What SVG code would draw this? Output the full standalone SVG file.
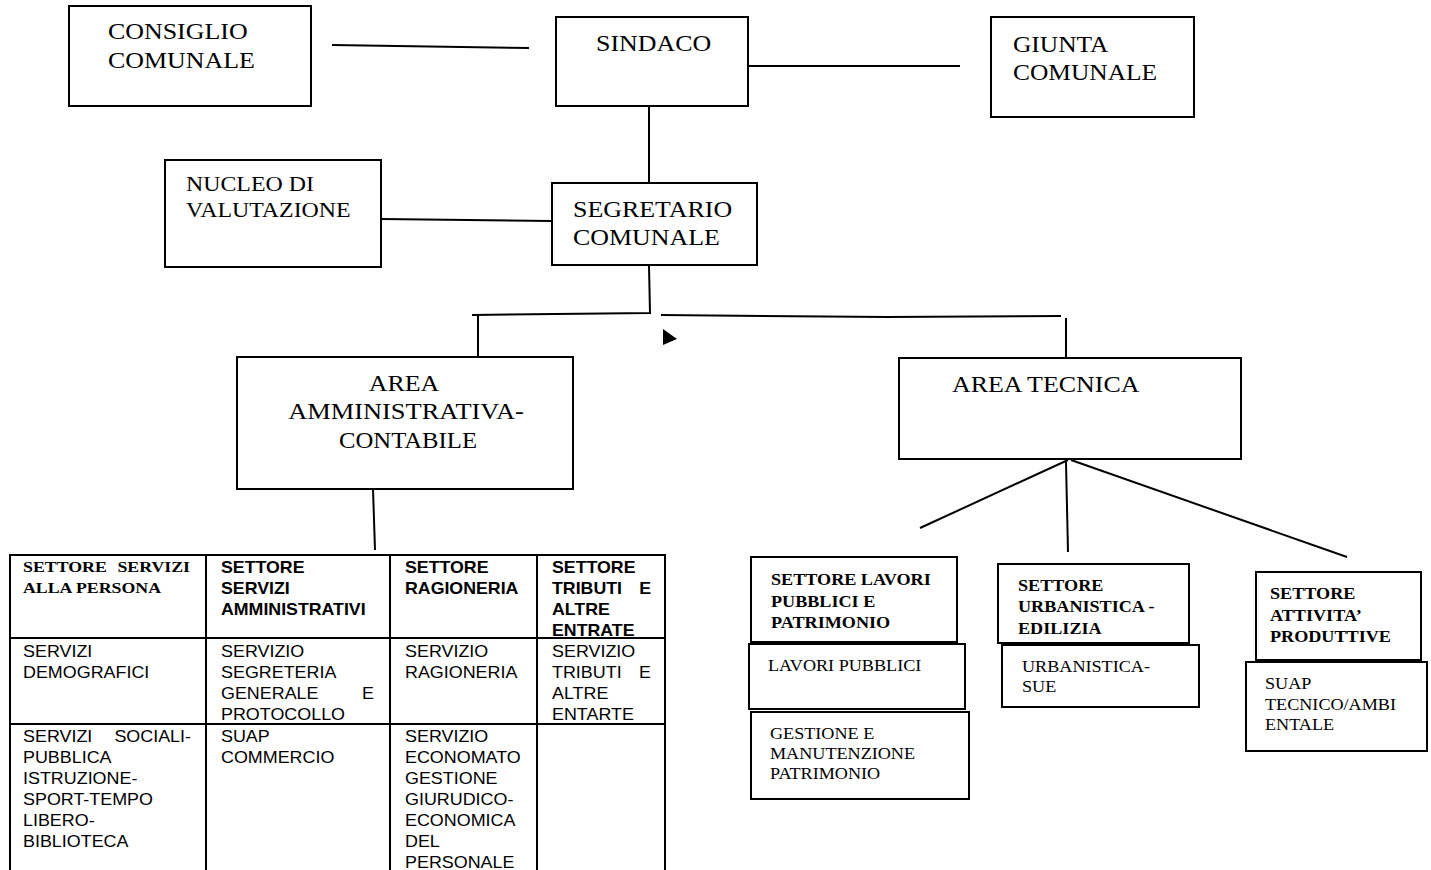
<svg xmlns="http://www.w3.org/2000/svg" width="1431" height="870" viewBox="0 0 1431 870">
<style>
.box{fill:#fff;stroke:#000;stroke-width:2}
.ln{stroke:#000;stroke-width:2;fill:none}
.t{font-family:"Liberation Serif",serif;font-size:24px;fill:#000}
.tm{font-family:"Liberation Serif",serif;font-size:21.5px;fill:#000}
.ts{font-family:"Liberation Serif",serif;font-size:16.5px;fill:#000}
.tb{font-family:"Liberation Serif",serif;font-size:16.5px;font-weight:bold;fill:#000}
.a{font-family:"Liberation Sans",Arial,sans-serif;font-size:16px;fill:#000}
.ab{font-family:"Liberation Sans",Arial,sans-serif;font-size:16px;font-weight:bold;fill:#000}
.tbs{font-family:"Liberation Serif",serif;font-size:15.5px;font-weight:bold;fill:#000}
.m{text-anchor:middle}
.e{text-anchor:end}
</style>
<rect width="1431" height="870" fill="#fff"/>
<g id="connectors">
<line class="ln" x1="332" y1="45" x2="529" y2="48"/>
<line class="ln" x1="748" y1="66" x2="960" y2="66"/>
<line class="ln" x1="649" y1="106" x2="649" y2="183"/>
<line class="ln" x1="381" y1="219" x2="552" y2="221"/>
<polyline class="ln" points="649,266 650,313 472,315"/>
<line class="ln" x1="478" y1="315" x2="478" y2="357"/>
<polyline class="ln" points="661,315 887,317 1061,316"/>
<line class="ln" x1="1066" y1="318" x2="1066" y2="359"/>
<polygon points="663,329 677,339 663,345" fill="#000"/>
<line class="ln" x1="373" y1="489" x2="375" y2="550"/>
<line class="ln" x1="1068" y1="460" x2="920" y2="528"/>
<line class="ln" x1="1066" y1="462" x2="1068" y2="552"/>
<line class="ln" x1="1071" y1="460" x2="1347" y2="557"/>
</g>
<g id="consiglio">
<rect class="box" x="69" y="6" width="242" height="100"/>
<text class="t" transform="translate(108 39) scale(1.08 1)">CONSIGLIO</text>
<text class="t" transform="translate(108 68) scale(1.08 1)">COMUNALE</text>
</g>
<g id="sindaco">
<rect class="box" x="556" y="17" width="192" height="89"/>
<text class="t" transform="translate(596 51) scale(1.08 1)">SINDACO</text>
</g>
<g id="giunta">
<rect class="box" x="991" y="17" width="203" height="100"/>
<text class="t" transform="translate(1013 52) scale(1.06 1)">GIUNTA</text>
<text class="t" transform="translate(1013 80) scale(1.06 1)">COMUNALE</text>
</g>
<g id="nucleo">
<rect class="box" x="165" y="160" width="216" height="107"/>
<text class="tm" transform="translate(186 191) scale(1.11 1)">NUCLEO DI</text>
<text class="tm" transform="translate(186 217) scale(1.11 1)">VALUTAZIONE</text>
</g>
<g id="segretario">
<rect class="box" x="552" y="183" width="205" height="82"/>
<text class="t" transform="translate(573 217) scale(1.08 1)">SEGRETARIO</text>
<text class="t" transform="translate(573 245) scale(1.08 1)">COMUNALE</text>
</g>
<g id="area-amm">
<rect class="box" x="237" y="357" width="336" height="132"/>
<text class="t m" transform="translate(404 391) scale(1.08 1)">AREA</text>
<text class="t m" transform="translate(406 419) scale(1.1 1)">AMMINISTRATIVA-</text>
<text class="t m" transform="translate(408 448) scale(1.03 1)">CONTABILE</text>
</g>
<g id="area-tec">
<rect class="box" x="899" y="358" width="342" height="101"/>
<text class="t" transform="translate(952 392) scale(1.08 1)">AREA TECNICA</text>
</g>
<g id="tabella">
<rect x="10" y="555" width="655" height="320" fill="#fff" stroke="#000" stroke-width="2"/>
<line class="ln" x1="206" y1="555" x2="206" y2="870"/>
<line class="ln" x1="390" y1="555" x2="390" y2="870"/>
<line class="ln" x1="537" y1="555" x2="537" y2="870"/>
<line class="ln" x1="10" y1="638" x2="665" y2="638"/>
<line class="ln" x1="10" y1="724" x2="665" y2="724"/>
<text class="tbs" transform="translate(23 572) scale(1.15 1)">SETTORE</text>
<text class="tbs e" transform="translate(190 572) scale(1.15 1)">SERVIZI</text>
<text class="tbs" transform="translate(23 593) scale(1.15 1)">ALLA PERSONA</text>
<text class="ab" transform="translate(221 573) scale(1.11 1)">SETTORE</text>
<text class="ab" transform="translate(221 594) scale(1.11 1)">SERVIZI</text>
<text class="ab" transform="translate(221 615) scale(1.11 1)">AMMINISTRATIVI</text>
<text class="ab" transform="translate(405 573) scale(1.11 1)">SETTORE</text>
<text class="ab" transform="translate(405 594) scale(1.11 1)">RAGIONERIA</text>
<text class="ab" transform="translate(552 573) scale(1.11 1)">SETTORE</text>
<text class="ab" transform="translate(552 594) scale(1.11 1)">TRIBUTI</text>
<text class="ab e" transform="translate(651 594) scale(1.11 1)">E</text>
<text class="ab" transform="translate(552 615) scale(1.11 1)">ALTRE</text>
<text class="ab" transform="translate(552 636) scale(1.11 1)">ENTRATE</text>
<g class="a">
<text transform="translate(23 657) scale(1.12 1)">SERVIZI</text>
<text transform="translate(23 678) scale(1.12 1)">DEMOGRAFICI</text>
<text transform="translate(221 657) scale(1.12 1)">SERVIZIO</text>
<text transform="translate(221 678) scale(1.12 1)">SEGRETERIA</text>
<text transform="translate(221 699) scale(1.12 1)">GENERALE</text>
<text class="e" transform="translate(374 699) scale(1.12 1)">E</text>
<text transform="translate(221 720) scale(1.12 1)">PROTOCOLLO</text>
<text transform="translate(405 657) scale(1.12 1)">SERVIZIO</text>
<text transform="translate(405 678) scale(1.12 1)">RAGIONERIA</text>
<text transform="translate(552 657) scale(1.12 1)">SERVIZIO</text>
<text transform="translate(552 678) scale(1.12 1)">TRIBUTI</text>
<text class="e" transform="translate(651 678) scale(1.12 1)">E</text>
<text transform="translate(552 699) scale(1.12 1)">ALTRE</text>
<text transform="translate(552 720) scale(1.12 1)">ENTARTE</text>
<text transform="translate(23 742) scale(1.12 1)">SERVIZI</text>
<text class="e" transform="translate(191 742) scale(1.12 1)">SOCIALI-</text>
<text transform="translate(23 763) scale(1.12 1)">PUBBLICA</text>
<text transform="translate(23 784) scale(1.12 1)">ISTRUZIONE-</text>
<text transform="translate(23 805) scale(1.12 1)">SPORT-TEMPO</text>
<text transform="translate(23 826) scale(1.12 1)">LIBERO-</text>
<text transform="translate(23 847) scale(1.12 1)">BIBLIOTECA</text>
<text transform="translate(221 742) scale(1.12 1)">SUAP</text>
<text transform="translate(221 763) scale(1.12 1)">COMMERCIO</text>
<text transform="translate(405 742) scale(1.12 1)">SERVIZIO</text>
<text transform="translate(405 763) scale(1.12 1)">ECONOMATO</text>
<text transform="translate(405 784) scale(1.12 1)">GESTIONE</text>
<text transform="translate(405 805) scale(1.12 1)">GIURUDICO-</text>
<text transform="translate(405 826) scale(1.12 1)">ECONOMICA</text>
<text transform="translate(405 847) scale(1.12 1)">DEL</text>
<text transform="translate(405 868) scale(1.12 1)">PERSONALE</text>
</g>
</g>
<g id="settore-lp">
<rect class="box" x="751" y="557" width="206" height="85"/>
<text class="tb" transform="translate(771 585) scale(1.1 1)">SETTORE LAVORI</text>
<text class="tb" transform="translate(771 607) scale(1.1 1)">PUBBLICI E</text>
<text class="tb" transform="translate(771 628) scale(1.1 1)">PATRIMONIO</text>
</g>
<g id="lavori-pubblici">
<rect class="box" x="749" y="644" width="216" height="65"/>
<text class="ts" transform="translate(768 671) scale(1.1 1)">LAVORI PUBBLICI</text>
</g>
<g id="gestione">
<rect class="box" x="751" y="712" width="218" height="87"/>
<text class="ts" transform="translate(770 739) scale(1.1 1)">GESTIONE E</text>
<text class="ts" transform="translate(770 759) scale(1.1 1)">MANUTENZIONE</text>
<text class="ts" transform="translate(770 779) scale(1.1 1)">PATRIMONIO</text>
</g>
<g id="settore-urb">
<rect class="box" x="998" y="564" width="191" height="79"/>
<text class="tb" transform="translate(1018 591) scale(1.1 1)">SETTORE</text>
<text class="tb" transform="translate(1018 612) scale(1.1 1)">URBANISTICA -</text>
<text class="tb" transform="translate(1018 634) scale(1.1 1)">EDILIZIA</text>
</g>
<g id="urbanistica">
<rect class="box" x="1002" y="645" width="197" height="62"/>
<text class="ts" transform="translate(1022 672) scale(1.1 1)">URBANISTICA-</text>
<text class="ts" transform="translate(1022 692) scale(1.1 1)">SUE</text>
</g>
<g id="settore-ap">
<rect class="box" x="1256" y="572" width="165" height="88"/>
<text class="tb" transform="translate(1270 599) scale(1.1 1)">SETTORE</text>
<text class="tb" transform="translate(1270 621) scale(1.1 1)">ATTIVITA’</text>
<text class="tb" transform="translate(1270 642) scale(1.1 1)">PRODUTTIVE</text>
</g>
<g id="suap">
<rect class="box" x="1246" y="662" width="181" height="89"/>
<text class="ts" transform="translate(1265 689) scale(1.1 1)">SUAP</text>
<text class="ts" transform="translate(1265 710) scale(1.1 1)">TECNICO/AMBI</text>
<text class="ts" transform="translate(1265 730) scale(1.1 1)">ENTALE</text>
</g>
</svg>
